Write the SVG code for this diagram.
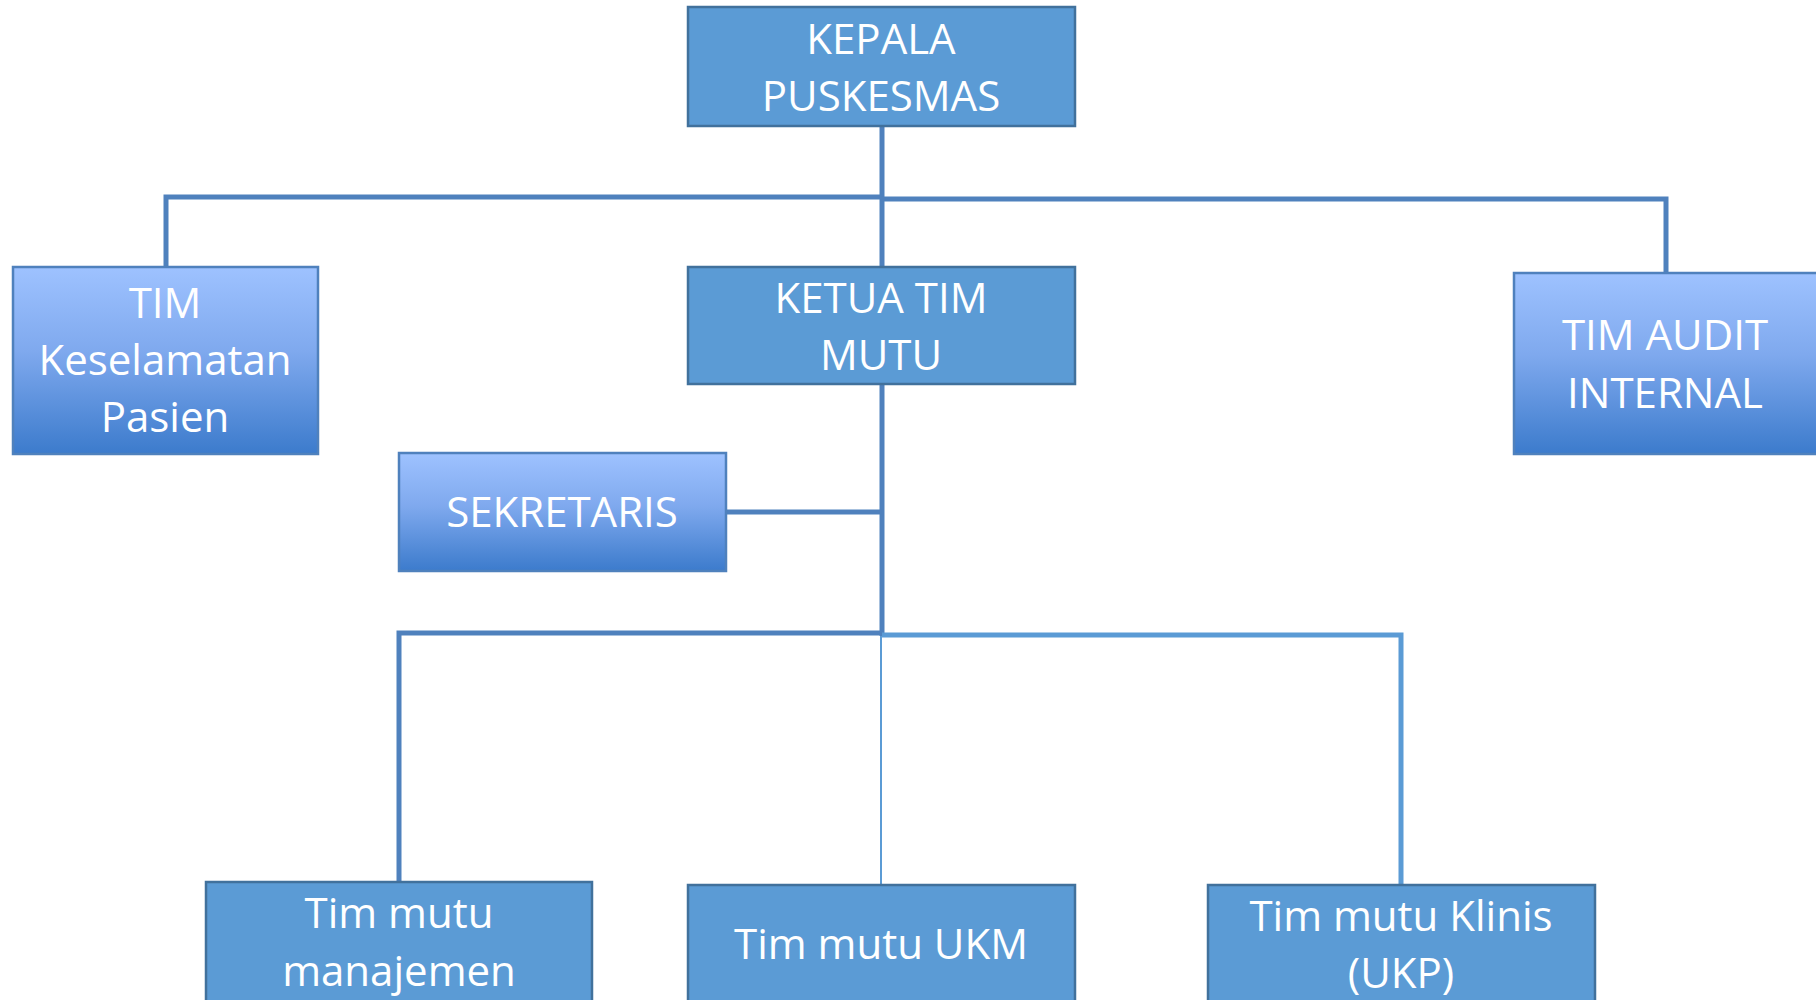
<svg xmlns="http://www.w3.org/2000/svg" width="1816" height="1000" viewBox="0 0 1816 1000">
<defs>
<linearGradient id="grad" x1="0" y1="0" x2="0" y2="1">
<stop offset="0" stop-color="#9EC2FF"/>
<stop offset="0.45" stop-color="#7FA9EE"/>
<stop offset="1" stop-color="#3C7BCC"/>
</linearGradient>
<style>
.solid{fill:#5B9BD5;stroke:#41719C;stroke-width:2.5}
.grad{fill:url(#grad);stroke:#4F81BD;stroke-width:2.5}
.t{font-family:"Open Sans","Liberation Sans",sans-serif;font-size:42px;fill:#FFFFFF;text-anchor:middle}
.c1{fill:none;stroke:#4F81BD;stroke-width:5}
.c2{fill:none;stroke:#5B9BD5;stroke-width:5}
.c3{fill:none;stroke:#5B9BD5;stroke-width:2}
</style>
</defs>
<rect width="1816" height="1000" fill="#FFFFFF"/>
<g id="connectors">
<path class="c1" d="M882,126 V267"/>
<path class="c1" d="M166,267 V197 H882"/>
<path class="c1" d="M882,199 H1666 V273"/>
<path class="c1" d="M882,384 V636"/>
<path class="c1" d="M727,512 H882"/>
<path class="c1" d="M399,882 V633 H882"/>
<path class="c2" d="M882,635 H1401 V885"/>
<path class="c3" d="M881,636 V885"/>
</g>
<g id="kepala">
<rect class="solid" x="688" y="7" width="387" height="119"/>
<text class="t" x="881" y="54">KEPALA</text>
<text class="t" x="881" y="111">PUSKESMAS</text>
</g>
<g id="keselamatan">
<rect class="grad" x="13" y="267" width="305" height="187"/>
<text class="t" x="165" y="318">TIM</text>
<text class="t" x="165" y="375">Keselamatan</text>
<text class="t" x="165" y="432">Pasien</text>
</g>
<g id="ketua">
<rect class="solid" x="688" y="267" width="387" height="117"/>
<text class="t" x="881" y="313">KETUA TIM</text>
<text class="t" x="881" y="370">MUTU</text>
</g>
<g id="audit">
<rect class="grad" x="1514" y="273" width="306" height="181"/>
<text class="t" x="1665" y="350">TIM AUDIT</text>
<text class="t" x="1665" y="408">INTERNAL</text>
</g>
<g id="sekretaris">
<rect class="grad" x="399" y="453" width="327" height="118"/>
<text class="t" x="562" y="527">SEKRETARIS</text>
</g>
<g id="manajemen">
<rect class="solid" x="206" y="882" width="386" height="122"/>
<text class="t" x="399" y="928">Tim mutu</text>
<text class="t" x="399" y="986">manajemen</text>
</g>
<g id="ukm">
<rect class="solid" x="688" y="885" width="387" height="119"/>
<text class="t" x="881" y="959">Tim mutu UKM</text>
</g>
<g id="klinis">
<rect class="solid" x="1208" y="885" width="387" height="119"/>
<text class="t" x="1401" y="931">Tim mutu Klinis</text>
<text class="t" x="1401" y="988">(UKP)</text>
</g>
</svg>
